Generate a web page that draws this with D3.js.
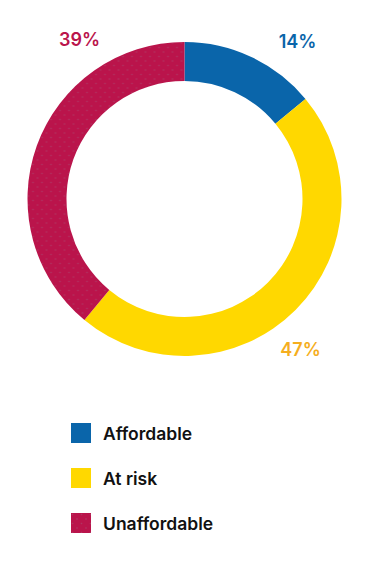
<!DOCTYPE html>
<html>
<head>
<meta charset="utf-8">
<script src="https://cdn.jsdelivr.net/npm/d3@7"></script>
<style>
  html, body { margin: 0; padding: 0; background: #fff; }
  svg { display: block; }
</style>
</head>
<body>
<script>
const categories = ["Affordable", "At risk", "Unaffordable"];
const values = [14, 47, 39];
const labels = ["14%", "47%", "39%"];
const sliceColors = ["#0A65AA", "#FFD800", "#BA144B"];
const labelColors = ["#0A65AA", "#F5AE1E", "#BA144B"];

const W = 376, H = 572;
const cx = 184.5, cy = 199, rOuter = 157, rInner = 118;
// label anchor offsets from chart center (layout only)
const labelOffsets = [[113, -151], [116, 157], [-105, -153]];

const svg = d3.select("body").append("svg").attr("width", W).attr("height", H);

const defs = svg.append("defs");
const pat = defs.append("pattern").attr("id", "dots")
  .attr("patternUnits", "userSpaceOnUse").attr("width", 9).attr("height", 9);
pat.append("rect").attr("width", 9).attr("height", 9).attr("fill", sliceColors[2]);
pat.append("circle").attr("cx", 1.5).attr("cy", 1.5).attr("r", 0.8).attr("fill", "#a2577a").attr("opacity", 0.5);
pat.append("circle").attr("cx", 6).attr("cy", 6).attr("r", 0.8).attr("fill", "#a2577a").attr("opacity", 0.5);

const fills = [sliceColors[0], sliceColors[1], "url(#dots)"];

const pie = d3.pie().sort(null).value(d => d)(values);
const arc = d3.arc().innerRadius(rInner).outerRadius(rOuter);

const g = svg.append("g").attr("transform", `translate(${cx},${cy})`);
g.selectAll("path").data(pie).join("path")
  .attr("d", arc)
  .attr("fill", (d, i) => fills[i]);

g.selectAll("text.lbl").data(pie).join("text")
  .attr("class", "lbl")
  .attr("x", (d, i) => labelOffsets[i][0])
  .attr("y", (d, i) => labelOffsets[i][1])
  .attr("text-anchor", "middle")
  .attr("font-family", "Inter, 'Open Sans', sans-serif")
  .attr("font-weight", 600)
  .attr("font-size", 18)
  .attr("fill", (d, i) => labelColors[i])
  .text((d, i) => labels[i]);

const legend = svg.append("g").attr("transform", "translate(71,423)");
const ly = d3.scaleBand().domain(categories).range([0, 135]).paddingInner(0);
const items = legend.selectAll("g").data(categories).join("g")
  .attr("transform", d => `translate(0,${ly(d)})`);
items.append("rect").attr("width", 20).attr("height", 20)
  .attr("fill", (d, i) => fills[i]);
items.append("text").attr("x", 32).attr("y", 17)
  .attr("font-family", "Inter, 'Open Sans', sans-serif")
  .attr("font-weight", 600)
  .attr("font-size", 17.5)
  .attr("fill", "#111")
  .text(d => d);
</script>
</body>
</html>
